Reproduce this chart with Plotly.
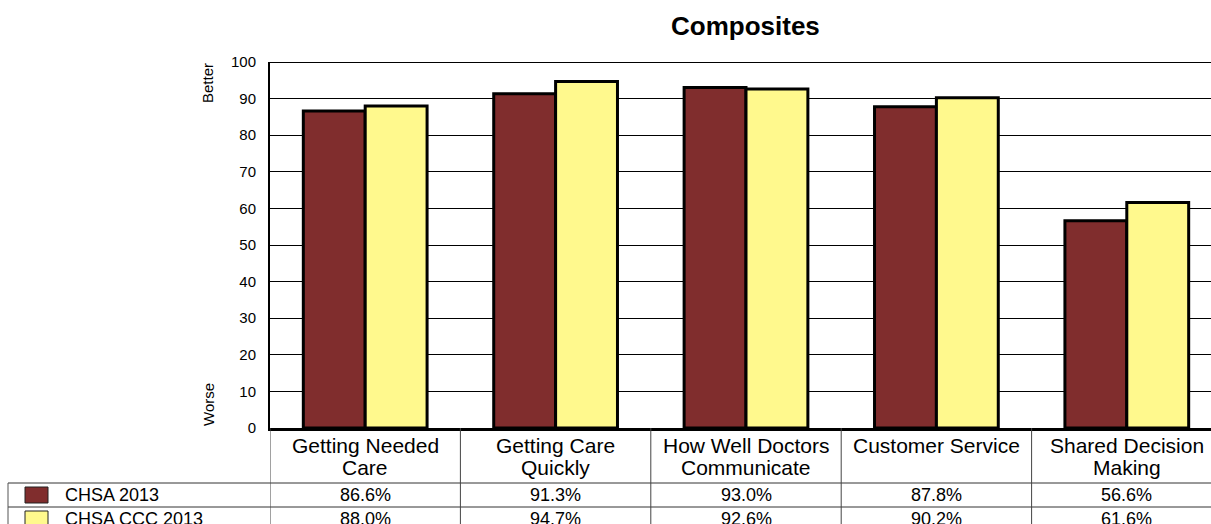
import plotly.graph_objects as go

categories = ["Getting Needed Care", "Getting Care Quickly", "How Well Doctors Communicate",
              "Customer Service", "Shared Decision Making"]
label_lines = [["Getting Needed", "Care"], ["Getting Care", "Quickly"],
               ["How Well Doctors", "Communicate"], ["Customer Service", ""],
               ["Shared Decision", "Making"]]
series_names = ["CHSA 2013", "CHSA CCC 2013"]
chsa_2013 = [86.6, 91.3, 93.0, 87.8, 56.6]
chsa_ccc_2013 = [88.0, 94.7, 92.6, 90.2, 61.6]
y_ticks = [0, 10, 20, 30, 40, 50, 60, 70, 80, 90, 100]

W, H = 1211, 524
L, R, T, B = 270, 0, 62, 96
PW = W - L - R
PH = H - T - B
colors = ["#802D2D", "#FFF98D"]
FONT = "Liberation Sans, Arial, sans-serif"


def px_x(p):
    return (p - L) / PW


def px_y(p):
    return (H - B - p) / PH


fig = go.Figure()
for name, vals, col in zip(series_names, [chsa_2013, chsa_ccc_2013], colors):
    fig.add_trace(go.Bar(x=list(range(len(categories))), y=vals, name=name,
                         marker=dict(color=col, line=dict(color="black", width=3)),
                         hoverinfo="skip"))

shapes = []
# top border of plot
shapes.append(dict(type="line", xref="paper", yref="y", x0=0, x1=1, y0=100, y1=100,
                   line=dict(color="black", width=2)))
# table horizontal lines
for p in [483, 507, 531]:
    shapes.append(dict(type="line", xref="paper", yref="paper", x0=px_x(8), x1=1,
                       y0=px_y(p), y1=px_y(p), line=dict(color="#333333", width=1)))
# table left border
shapes.append(dict(type="line", xref="paper", yref="paper", x0=px_x(8), x1=px_x(8),
                   y0=px_y(483), y1=px_y(530), line=dict(color="#555555", width=1)))
# category boundaries below the plot
for i in range(len(categories)):
    shapes.append(dict(type="line", xref="x", yref="paper", x0=i - 0.5, x1=i - 0.5,
                       y0=0, y1=px_y(530), line=dict(color="#444444", width=1)))
# legend swatches
for k, col in enumerate(colors):
    top = 487 + 24 * k
    shapes.append(dict(type="rect", xref="paper", yref="paper", x0=px_x(25), x1=px_x(48),
                       y0=px_y(top), y1=px_y(top + 16), fillcolor=col,
                       line=dict(color="#222222", width=1)))

annotations = []


def ann(text, x, y, xref="paper", size=18, xanchor="center", angle=0):
    annotations.append(dict(text=text, xref=xref, yref="paper", x=x, y=y,
                            xanchor=xanchor, yanchor="middle", textangle=angle,
                            showarrow=False, font=dict(size=size, color="black", family=FONT)))


ann("<b>Composites</b>", px_x(745), px_y(26), size=26)
ann("Better", px_x(208), px_y(83), size=15, angle=-90)
ann("Worse", px_x(208), px_y(405), size=15, angle=-90)
for i, lines in enumerate(label_lines):
    for j, ln in enumerate(lines):
        if ln:
            ann(ln, i, px_y(445 + 23 * j), xref="x", size=21)
for k, (name, vals) in enumerate(zip(series_names, [chsa_2013, chsa_ccc_2013])):
    yc = px_y(495 + 24 * k)
    ann(name, px_x(63), yc, size=18, xanchor="left")
    for i, v in enumerate(vals):
        ann(f"{v:.1f}%", i, yc, xref="x", size=18)

fig.update_layout(
    width=W, height=H,
    margin=dict(l=L, r=R, t=T, b=B, pad=0),
    paper_bgcolor="white", plot_bgcolor="white",
    barmode="group", bargap=0.35, bargroupgap=0,
    showlegend=False,
    font=dict(family=FONT, color="black"),
    xaxis=dict(range=[-0.5, -0.5 + PW / 190.4], showticklabels=False, showgrid=False,
               zeroline=False, showline=True, linecolor="black", linewidth=3, ticks=""),
    yaxis=dict(range=[0, 100], tickvals=y_ticks, showgrid=True, gridcolor="black", gridwidth=1,
               zeroline=False, showline=True, linecolor="black", linewidth=2, ticks="",
               ticklabelstandoff=9, tickfont=dict(size=15, color="black", family=FONT)),
    shapes=shapes, annotations=annotations,
)

fig.write_html("out.html", config={"displayModeBar": False},
               post_script="document.body.style.margin='0';document.body.style.overflow='hidden';")
